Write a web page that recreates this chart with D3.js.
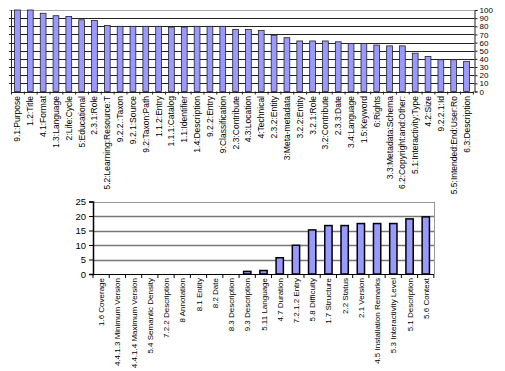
<!DOCTYPE html>
<html>
<head>
<meta charset="utf-8">
<script src="https://cdn.jsdelivr.net/npm/d3@7"></script>
<style>
  body { margin: 0; background: #fff; }
  svg { display: block; font-family: "Liberation Sans Narrow", "Liberation Sans", Arial, sans-serif; }
</style>
</head>
<body>
<div id="chart"></div>
<script>
// top chart: percentage of records using each element
const topCats = ["9.1:Purpose", "1.2:Title", "4.1:Format", "1.3:Language", "2:Life:Cycle",
  "5:Educational", "2.3.1:Role", "5.2:Learning:Resource:T", "9.2.2.:Taxon", "9.2.1:Source",
  "9.2:Taxon:Path", "1.1.2:Entry", "1.1.1:Catalog", "1.1:Identifier", "1.4:Description",
  "9.2.2:Entry", "9:Classification", "2.3:Contribute", "4.3:Location", "4:Technical",
  "2.3.2:Entity", "3:Meta-metadata", "3.2.2:Entity", "3.2.1:Role", "3.2:Contribute",
  "2.3.3:Date", "3.4:Language", "1.5:Keyword", "6:Rights", "3.3:Metadata:Schema",
  "6.2:Copyright:and:Other:", "5.1:Interactivity:Type", "4.2:Size", "9.2.2.1:Id",
  "5.5:Intended:End:User:Ro", "6.3:Description"];
const topValues = [100, 100, 96, 93, 92, 88, 87, 81, 80, 80, 80, 80, 79, 79, 80, 80, 80, 76, 76, 75,
  69, 66, 62, 62, 62, 61, 59, 59, 57, 56, 56, 47, 43, 39, 39, 37];
const topTicks = [0, 10, 20, 30, 40, 50, 60, 70, 80, 90, 100];

// bottom chart: rarely used elements
const botCats = ["1.6 Coverage", "4.4.1.3 Minimum Version", "4.4.1.4 Maximum Version",
  "5.4 Semantic Density", "7.2.2 Description", "8 Annotation", "8.1 Entity", "8.2 Date",
  "8.3 Description", "9.3 Description", "5.11 Language", "4.7 Duration", "7.2.1.2 Entry",
  "5.8 Difficulty", "1.7 Structure", "2.2 Status", "2.1 Version", "4.5 Installation Remarks",
  "5.3 Interactivity Level", "5.1 Description", "5.6 Context"];
const botValues = [0, 0, 0, 0, 0, 0, 0, 0, 0, 0.9, 1.2, 5.6, 9.9, 15.2, 16.7, 16.7, 17.4, 17.4,
  17.4, 19, 19.7];
const botTicks = [0, 5, 10, 15, 20, 25];

const svg = d3.select("#chart").append("svg")
  .attr("width", 505)
  .attr("height", 371);

// ---- top chart
const x1 = d3.scaleBand().domain(topCats).range([11, 473]).paddingInner(0.55).paddingOuter(0.28);
const y1 = d3.scaleLinear().domain([0, 100]).range([91.5, 10]);

const topG = svg.append("g");

topG.selectAll("line.grid")
  .data(topTicks.filter(d => d > 0))
  .enter().append("line")
  .attr("class", "grid")
  .attr("x1", 9).attr("x2", 474)
  .attr("y1", d => Math.round(y1(d)) + 0.5)
  .attr("y2", d => Math.round(y1(d)) + 0.5)
  .attr("stroke", d => d == 100 ? "#aaa" : "#222")
  .attr("stroke-width", 1);

topG.append("line")
  .attr("x1", 11.5).attr("x2", 11.5)
  .attr("y1", y1(100)).attr("y2", y1(0))
  .attr("stroke", "#222");

topG.selectAll("rect.bar")
  .data(topValues)
  .enter().append("rect")
  .attr("class", "bar")
  .attr("x", (d, i) => x1(topCats[i]))
  .attr("y", d => y1(d))
  .attr("width", x1.bandwidth())
  .attr("height", d => y1(0) - y1(d))
  .attr("fill", "#9999ff")
  .attr("stroke", "#222")
  .attr("stroke-width", 0.8);

// category axis: ticks between bars
const step1 = x1.step();
topG.append("line")
  .attr("x1", 11).attr("x2", 474)
  .attr("y1", Math.round(y1(0)) + 0.5).attr("y2", Math.round(y1(0)) + 0.5)
  .attr("stroke", "#222");
topG.selectAll("line.ctick")
  .data(d3.range(topCats.length + 1))
  .enter().append("line")
  .attr("class", "ctick")
  .attr("x1", i => 11.5 + i * step1).attr("x2", i => 11.5 + i * step1)
  .attr("y1", y1(0)).attr("y2", y1(0) + 3)
  .attr("stroke", "#222");

topG.selectAll("text.clabel")
  .data(topCats)
  .enter().append("text")
  .attr("class", "clabel")
  .attr("transform", d => `translate(${x1(d) + x1.bandwidth() / 2 + 3},96) rotate(-90)`)
  .attr("text-anchor", "end")
  .attr("font-size", 8.5)
  .text(d => d);

const yAxis1 = d3.axisRight(y1).tickValues(topTicks).tickSize(3).tickPadding(2);
const ya1 = topG.append("g")
  .attr("transform", "translate(474.5,0)")
  .call(yAxis1);
ya1.select(".domain").attr("stroke", "#222");
ya1.selectAll(".tick line").attr("stroke", "#222");
ya1.selectAll("text")
  .attr("font-size", 8)
  .attr("font-family", "Liberation Sans, Arial, sans-serif")
  .attr("fill", "#000");

// ---- bottom chart
const x2 = d3.scaleBand().domain(botCats).range([93, 434]).paddingInner(0.55).paddingOuter(0.28);
const y2 = d3.scaleLinear().domain([0, 25]).range([274, 201.5]);

const botG = svg.append("g");

botG.selectAll("line.grid")
  .data(botTicks.filter(d => d > 0))
  .enter().append("line")
  .attr("class", "grid")
  .attr("x1", 93).attr("x2", 434)
  .attr("y1", d => Math.round(y2(d)) + 0.5)
  .attr("y2", d => Math.round(y2(d)) + 0.5)
  .attr("stroke", d => d == 25 ? "#999" : "#777")
  .attr("stroke-width", d => d == 25 ? 1 : 1.5);

botG.append("line")
  .attr("x1", 434.5).attr("x2", 434.5)
  .attr("y1", y2(25)).attr("y2", y2(0))
  .attr("stroke", "#999");

botG.selectAll("rect.bar")
  .data(botValues)
  .enter().append("rect")
  .attr("class", "bar")
  .attr("x", (d, i) => x2(botCats[i]))
  .attr("y", d => y2(d))
  .attr("width", x2.bandwidth())
  .attr("height", d => y2(0) - y2(d))
  .attr("fill", "#9999ff")
  .attr("stroke", "#000")
  .attr("stroke-width", d => d > 0 ? 1.5 : 0);

const step2 = x2.step();
botG.append("line")
  .attr("x1", 93).attr("x2", 434)
  .attr("y1", y2(0) + 0.5).attr("y2", y2(0) + 0.5)
  .attr("stroke", "#000").attr("stroke-width", 1.2);
botG.selectAll("line.ctick")
  .data(d3.range(botCats.length + 1))
  .enter().append("line")
  .attr("class", "ctick")
  .attr("x1", i => 93 + i * step2).attr("x2", i => 93 + i * step2)
  .attr("y1", y2(0)).attr("y2", y2(0) + 4)
  .attr("stroke", "#000");

botG.selectAll("text.clabel")
  .data(botCats)
  .enter().append("text")
  .attr("class", "clabel")
  .attr("transform", d => `translate(${x2(d) + x2.bandwidth() / 2 + 3},278) rotate(-90)`)
  .attr("text-anchor", "end")
  .attr("font-size", 8)
  .attr("font-family", "Liberation Sans, Arial, sans-serif")
  .text(d => d);

const yAxis2 = d3.axisLeft(y2).tickValues(botTicks).tickSize(4).tickPadding(3);
const ya2 = botG.append("g")
  .attr("transform", "translate(93,0)")
  .call(yAxis2);
ya2.select(".domain").attr("stroke", "#000").attr("stroke-width", 1.5);
ya2.selectAll(".tick line").attr("stroke", "#000");
ya2.selectAll("text")
  .attr("font-size", 9.5)
  .attr("font-family", "Liberation Sans, Arial, sans-serif")
  .attr("fill", "#000");
</script>
</body>
</html>
